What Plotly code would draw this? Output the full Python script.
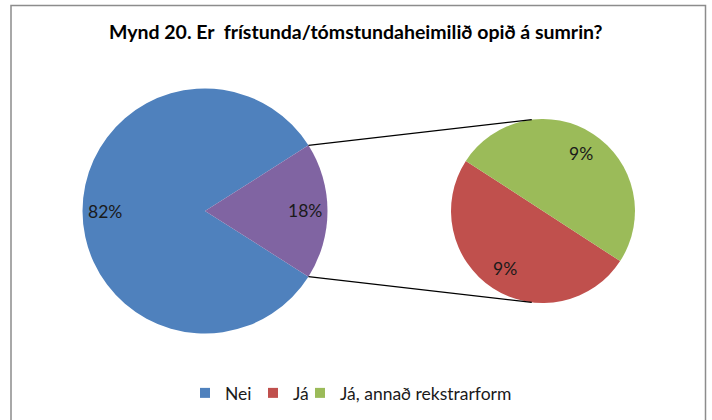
import math
import plotly.graph_objects as go

# ---- data ----
main_labels = ["Nei", "Já samtals"]
nei_value = 82
sub_labels = ["Já", "Já, annað rekstrarform"]
sub_values = [9, 9]
legend_labels = ["Nei", "Já", "Já, annað rekstrarform"]
title_text = "Mynd 20. Er  frístunda/tómstundaheimilið opið á sumrin?"

main_values = [nei_value, sum(sub_values)]

# ---- style ----
W, H = 712, 420
BLUE, PURPLE, RED, GREEN = "#4F81BD", "#8064A2", "#C0504D", "#9BBB59"
FONT = "Lato"

# pie geometry in pixels
cL, rL = (205, 211), 122.5
cR, rR = (543, 211), 92
sub_rotation = 123  # compass degrees where the first sub slice starts
legend_left_px = [185, 253, 300]

def px(x):
    return x / W

def py(y):
    return 1 - y / H

def dom(c, r):
    return dict(x=[px(c[0] - r), px(c[0] + r)], y=[py(c[1] + r), py(c[1] - r)])

total = sum(main_values)
other_share = main_values[1] / total
main_rotation = 90 + other_share * 360 / 2

fig = go.Figure()
fig.add_trace(go.Pie(
    labels=main_labels, values=main_values, sort=False, direction="clockwise",
    rotation=main_rotation, domain=dom(cL, rL), textinfo="none", hoverinfo="label+percent",
    marker=dict(colors=[BLUE, PURPLE], line=dict(width=0)), showlegend=False,
))
fig.add_trace(go.Pie(
    labels=sub_labels, values=sub_values, sort=False, direction="clockwise",
    rotation=sub_rotation, domain=dom(cR, rR), textinfo="none", hoverinfo="label+percent",
    marker=dict(colors=[RED, GREEN], line=dict(width=0)), showlegend=False,
))

# legend entries, one legend each so they can be spaced like the original
legend_ids = ["legend", "legend2", "legend3"]
for name, col, lid in zip(legend_labels, [BLUE, RED, GREEN], legend_ids):
    fig.add_trace(go.Scatter(x=[None], y=[None], mode="markers", name=name, legend=lid,
                             marker=dict(symbol="square", size=10, color=col)))

annotations = []

def slice_labels(values, rotation, c, r, frac, grand_total):
    s = sum(values)
    start = rotation
    for v in values:
        span = v / s * 360
        mid = start + span / 2  # compass, clockwise from north
        ang = math.radians(90 - mid)
        x = c[0] + frac * r * math.cos(ang)
        y = c[1] - frac * r * math.sin(ang)
        annotations.append(dict(
            x=px(x), y=py(y), xref="paper", yref="paper", showarrow=False,
            text=f"{round(v / grand_total * 100)}%", font=dict(size=17.5, color="#1a1a1a", family=FONT),
            xanchor="center", yanchor="middle"))
        start += span

slice_labels(main_values, main_rotation, cL, rL, 0.82, total)
slice_labels(sub_values, sub_rotation, cR, rR, 0.75, total)

annotations.append(dict(
    x=0.5, y=py(32), xref="paper", yref="paper", showarrow=False,
    text=f"<b>{title_text}</b>", font=dict(size=19.5, color="#000000", family=FONT),
    xanchor="center", yanchor="middle"))

shapes = []
half = math.radians(other_share * 360 / 2)
for sgn in (1, -1):
    x0 = cL[0] + rL * math.cos(half)
    y0 = cL[1] - sgn * rL * math.sin(half)
    phi = math.radians(97)
    x1 = cR[0] + rR * math.cos(phi)
    y1 = cR[1] - sgn * rR * math.sin(phi)
    shapes.append(dict(type="line", xref="paper", yref="paper",
                       x0=px(x0), y0=py(y0), x1=px(x1), y1=py(y1),
                       line=dict(color="#000000", width=1.3)))

shapes.append(dict(type="rect", xref="paper", yref="paper",
                   x0=px(11), x1=px(705.5), y0=-0.05, y1=py(5.5),
                   line=dict(color="#8c8c8c", width=1.5), fillcolor="rgba(0,0,0,0)"))

legend_common = dict(orientation="h", xanchor="left", y=py(393), yanchor="middle",
                     font=dict(size=17.5, family=FONT, color="#1a1a1a"), itemwidth=30,
                     bgcolor="rgba(0,0,0,0)")

fig.update_layout(
    width=W, height=H, margin=dict(l=0, r=0, t=0, b=0),
    paper_bgcolor="white", plot_bgcolor="white",
    xaxis=dict(visible=False), yaxis=dict(visible=False),
    annotations=annotations, shapes=shapes,
    showlegend=True,
    legend=dict(x=px(legend_left_px[0]), **legend_common),
    legend2=dict(x=px(legend_left_px[1]), **legend_common),
    legend3=dict(x=px(legend_left_px[2]), **legend_common),
    font=dict(family=FONT),
)

fig.write_html("out.html", config={"displayModeBar": False},
               post_script="document.body.style.margin='0';")
